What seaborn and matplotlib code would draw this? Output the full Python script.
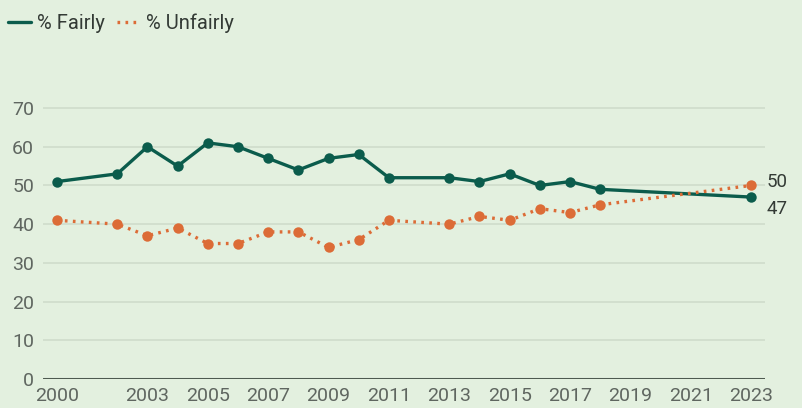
import matplotlib
matplotlib.use("Agg")
import matplotlib.pyplot as plt
import seaborn as sns
import pandas as pd
from matplotlib.lines import Line2D

years = [2000, 2002, 2003, 2004, 2005, 2006, 2007, 2008, 2009, 2010, 2011,
         2013, 2014, 2015, 2016, 2017, 2018, 2023]
fairly = [51, 53, 60, 55, 61, 60, 57, 54, 57, 58, 52, 52, 51, 53, 50, 51, 49, 47]
unfairly = [41, 40, 37, 39, 35, 35, 38, 38, 34, 36, 41, 40, 42, 41, 44, 43, 45, 50]
series_names = ["% Fairly", "% Unfairly"]
xticks = [2000, 2003, 2005, 2007, 2009, 2011, 2013, 2015, 2017, 2019, 2021, 2023]
yticks = [0, 10, 20, 30, 40, 50, 60, 70]

bg = "#e3f0df"
green = "#0b5c4c"
orange = "#dc6c37"

sns.set_theme(style="white")
plt.rcParams["font.family"] = ["Roboto", "DejaVu Sans"]

df = pd.DataFrame({
    "year": years * 2,
    "value": fairly + unfairly,
    "series": [series_names[0]] * len(years) + [series_names[1]] * len(years),
})

fig = plt.figure(figsize=(8.02, 4.08), dpi=100)
fig.patch.set_facecolor(bg)
ax = fig.add_axes([43 / 802, 1 - 379 / 408, (765 - 43) / 802, (379 - 100.3) / 408])
ax.set_facecolor(bg)

sns.lineplot(data=df, x="year", y="value", hue="series", style="series",
             palette={series_names[0]: green, series_names[1]: orange},
             dashes={series_names[0]: "", series_names[1]: (0.8, 1.6)},
             markers={series_names[0]: "o", series_names[1]: "o"},
             markersize=7.5, markeredgewidth=0, linewidth=2.4,
             ax=ax, legend=False, zorder=3)

ax.set_xlim(1999.54, 2023.46)
ax.set_ylim(0, 72)
ax.set_xticks(xticks)
ax.set_xticklabels([str(t) for t in xticks])
ax.set_yticks(yticks)
ax.set_yticklabels([str(t) for t in yticks])
ax.tick_params(axis="both", length=0, labelsize=14, colors="#5f6660")
ax.tick_params(axis="x", pad=6)
ax.tick_params(axis="y", pad=6.5)
ax.set_xlabel("")
ax.set_ylabel("")
for s in ax.spines.values():
    s.set_visible(False)
for t in yticks[1:]:
    ax.axhline(t, color="#cfdccb", lw=1.2, zorder=1)
ax.axhline(0, color="#4e5a50", lw=2.2, zorder=2)

ax.annotate(str(unfairly[-1]), xy=(years[-1], unfairly[-1]), xytext=(11, 2.5),
            textcoords="offset points", va="center", ha="left",
            fontsize=13.5, color="#333a35", annotation_clip=False)
ax.annotate(str(fairly[-1]), xy=(years[-1], fairly[-1]), xytext=(11, -8.3),
            textcoords="offset points", va="center", ha="left",
            fontsize=13.5, color="#333a35", annotation_clip=False)

handles = [Line2D([0], [0], color=green, lw=2.4),
           Line2D([0], [0], color=orange, lw=2.4, linestyle=(0, (0.8, 1.6)))]
fig.legend(handles, series_names, loc="center left",
           bbox_to_anchor=(8 / 802, 1 - 23 / 408),
           ncol=2, frameon=False, fontsize=14.5, handlelength=1.15,
           handletextpad=0.3, columnspacing=0.6, labelcolor="#333a35",
           borderaxespad=0, borderpad=0)

fig.savefig("out.png", dpi=100, facecolor=bg)
